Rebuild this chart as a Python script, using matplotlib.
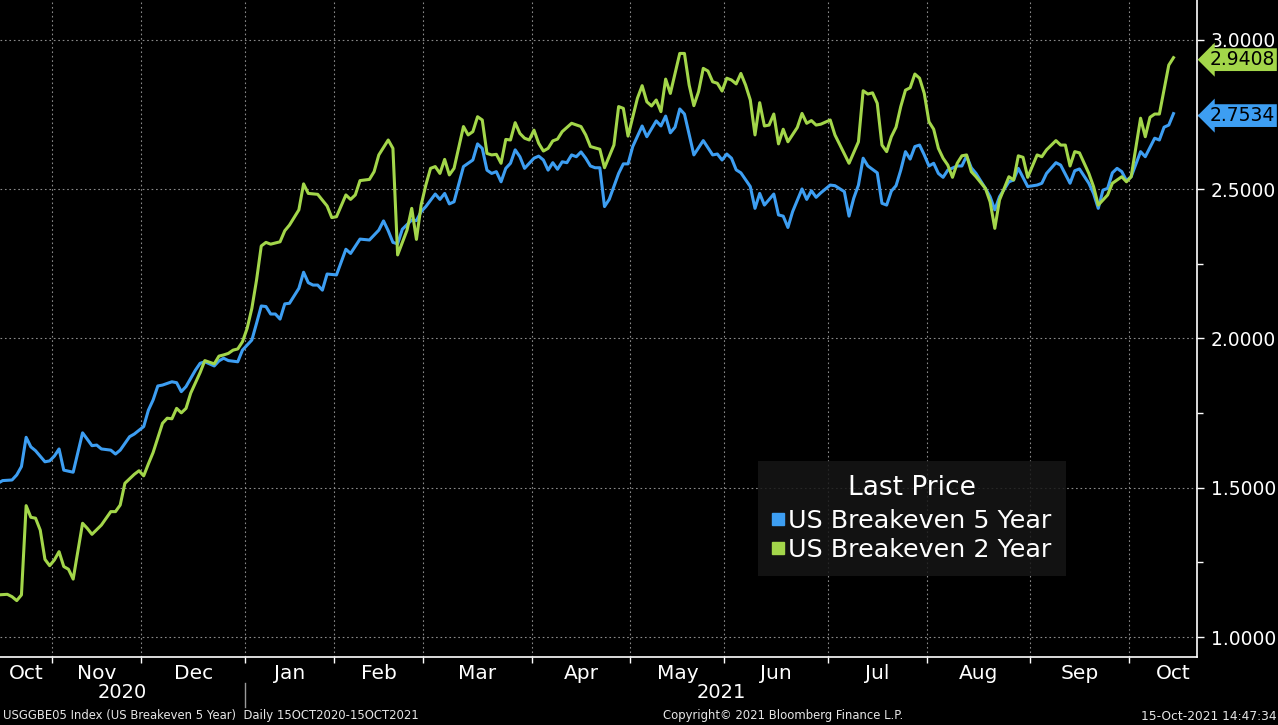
import numpy as np
import pandas as pd
import matplotlib
matplotlib.use('Agg')
from matplotlib import pyplot as plt
from matplotlib import transforms
from matplotlib.lines import Line2D
from matplotlib.ticker import FixedLocator, FixedFormatter, MultipleLocator, FormatStrFormatter, NullFormatter

# US bond market sessions, 15 Oct 2020 - 15 Oct 2021
holidays = ['2020-11-11', '2020-11-26', '2020-12-25', '2021-01-01', '2021-01-18',
            '2021-02-15', '2021-04-02', '2021-05-31', '2021-07-05', '2021-09-06',
            '2021-10-11']
sessions = pd.bdate_range('2020-10-15', '2021-10-15', freq='C', holidays=holidays)

# session number -> breakeven (%)
day_5y = [0, 1, 3, 4, 5, 6, 7, 8, 10, 11, 12, 13, 14, 16, 18, 20, 21, 22, 24, 25,
          26, 28, 29, 31, 32, 33, 34, 35, 37, 38, 39, 40, 42, 43, 44, 46, 47,
          48, 49, 51, 52, 54, 55, 56, 57, 58, 59, 60, 61, 62, 64, 65, 66, 67, 68,
          69, 70, 72, 74, 75, 77, 79, 81, 82, 83, 84, 85, 86, 88, 89, 90,
          91, 93, 94, 95, 96, 97, 99, 101, 102, 103, 104, 105, 106, 107, 108, 109,
          110, 111, 112, 114, 115, 116, 117, 118, 119, 120, 121, 122, 123, 124, 125,
          126, 127, 128, 129, 130, 132, 133, 134, 135,
          137, 138, 140, 141, 142, 143, 144, 145, 146, 148, 150, 152, 153, 154, 155,
          156, 157, 158, 160, 161, 162, 163, 165, 166, 167, 168, 169, 171, 172, 173,
          174, 175, 177, 178, 180, 181, 182, 183, 184, 185, 187, 188, 189, 190, 191,
          192, 193, 194, 195, 196, 197, 198,
          199, 200, 201, 202, 204, 205, 206, 207, 208, 210, 211, 212, 213, 215, 216,
          217, 219, 221, 222, 223, 225, 226, 228, 229, 230, 232, 233, 234, 235, 236,
          237, 238, 239, 240, 241, 243, 244, 246, 247, 248, 249, 250]
be_5y = [1.515, 1.524, 1.526, 1.543, 1.571, 1.669, 1.637, 1.624, 1.587, 1.590, 1.606, 1.630, 1.559, 1.552, 1.684, 1.641, 1.643, 1.630, 1.626, 1.613,
         1.626, 1.671, 1.680, 1.705, 1.760, 1.794, 1.841, 1.844, 1.855, 1.852, 1.822, 1.839, 1.894, 1.917, 1.922, 1.908, 1.925,
         1.934, 1.926, 1.922, 1.961, 1.995, 2.051, 2.109, 2.107, 2.082, 2.082, 2.065, 2.116, 2.118, 2.168, 2.222, 2.187, 2.179, 2.179,
         2.162, 2.216, 2.213, 2.299, 2.285, 2.333, 2.330, 2.363, 2.394, 2.361, 2.322, 2.317, 2.366, 2.397, 2.395, 2.425,
         2.442, 2.484, 2.466, 2.486, 2.451, 2.458, 2.576, 2.598, 2.652, 2.637, 2.564, 2.553, 2.559, 2.525, 2.570, 2.587,
         2.632, 2.609, 2.570, 2.604, 2.611, 2.598, 2.564, 2.589, 2.567, 2.592, 2.589, 2.615, 2.609, 2.625, 2.604,
         2.578, 2.572, 2.572, 2.442, 2.466, 2.553, 2.585, 2.585, 2.643,
         2.712, 2.676, 2.729, 2.712, 2.745, 2.689, 2.708, 2.769, 2.752, 2.615, 2.663, 2.615, 2.618, 2.598, 2.618,
         2.604, 2.565, 2.555, 2.509, 2.436, 2.486, 2.447, 2.484, 2.414, 2.410, 2.372, 2.425, 2.501, 2.466, 2.495,
         2.473, 2.488, 2.514, 2.512, 2.492, 2.410, 2.470, 2.514, 2.604, 2.578, 2.555, 2.453, 2.447, 2.494, 2.512,
         2.564, 2.626, 2.601, 2.643, 2.648, 2.615, 2.578,
         2.587, 2.553, 2.540, 2.564, 2.578, 2.578, 2.611, 2.572, 2.553, 2.503, 2.475, 2.431, 2.475, 2.525, 2.531,
         2.570, 2.509, 2.514, 2.520, 2.553, 2.589, 2.581, 2.520, 2.562, 2.568, 2.520, 2.486, 2.436, 2.497, 2.503,
         2.555, 2.570, 2.559, 2.529, 2.542, 2.626, 2.609, 2.671, 2.665, 2.708, 2.715, 2.7534]

day_2y = [0, 2, 3, 4, 5, 6, 7, 8, 9, 10, 11, 12, 13, 14, 15, 16, 18, 19, 20, 22,
          24, 25, 26, 27, 29, 30, 31, 32, 33, 35, 36, 37, 38, 39, 40, 41, 43, 44, 46, 47,
          48, 49, 50, 51, 52, 53, 54, 55, 56, 57, 58, 60, 61, 62, 64, 65, 66, 68, 70,
          71, 72, 74, 75, 76, 77, 79, 80, 81, 83, 84, 85, 87, 88, 89, 90,
          91, 92, 93, 94, 95, 96, 97, 99, 100, 101, 102, 103, 104, 105, 106, 107, 108,
          109, 110, 111, 112, 113, 114, 115, 116, 117, 118, 119, 120, 122, 124, 125,
          126, 128, 129, 131, 132, 133, 134, 136,
          137, 138, 139, 140, 141, 142, 143, 145, 146, 147, 148, 149, 150, 151, 152,
          153, 154, 155, 156, 157, 158, 159, 160, 161, 162, 163, 164, 165, 166, 167,
          168, 170, 171, 172, 173, 174, 175, 177, 178, 181, 183, 184, 185, 186, 187,
          188, 189, 190, 191, 192, 193, 194, 195, 196, 197,
          198, 199, 200, 201, 202, 203, 204, 205, 206, 207, 208, 210, 211, 212, 213,
          215, 216, 217, 218, 219, 221, 222, 223, 225, 226, 227, 228, 229, 230, 232,
          233, 234, 235, 236, 237, 239, 240, 241, 243, 244, 245, 246, 247, 249, 250]
be_2y = [1.141, 1.143, 1.135, 1.122, 1.141, 1.440, 1.401, 1.398, 1.358, 1.260, 1.239, 1.258, 1.286, 1.236, 1.227, 1.194, 1.381, 1.364, 1.344, 1.375,
         1.420, 1.420, 1.442, 1.515, 1.545, 1.557, 1.540, 1.580, 1.618, 1.716, 1.733, 1.731, 1.766, 1.751, 1.766, 1.817, 1.886, 1.926, 1.915, 1.941,
         1.945, 1.950, 1.961, 1.965, 1.989, 2.034, 2.101, 2.196, 2.310, 2.322, 2.316, 2.324, 2.361, 2.380, 2.431, 2.518, 2.486, 2.483, 2.444,
         2.405, 2.408, 2.481, 2.466, 2.481, 2.529, 2.533, 2.559, 2.615, 2.665, 2.637, 2.280, 2.363, 2.436, 2.332, 2.447,
         2.514, 2.570, 2.576, 2.553, 2.600, 2.548, 2.570, 2.710, 2.682, 2.693, 2.743, 2.732, 2.620, 2.615, 2.617, 2.587, 2.667,
         2.665, 2.723, 2.687, 2.671, 2.665, 2.698, 2.654, 2.628, 2.637, 2.662, 2.668, 2.693, 2.721, 2.710, 2.682,
         2.643, 2.634, 2.572, 2.648, 2.777, 2.771, 2.678, 2.805,
         2.847, 2.793, 2.779, 2.799, 2.760, 2.869, 2.821, 2.955, 2.955, 2.849, 2.780, 2.827, 2.905, 2.896, 2.860,
         2.855, 2.829, 2.872, 2.866, 2.853, 2.888, 2.849, 2.799, 2.682, 2.790, 2.712, 2.715, 2.752, 2.652, 2.701,
         2.659, 2.707, 2.754, 2.721, 2.730, 2.715, 2.718, 2.732, 2.682, 2.587, 2.659, 2.830, 2.819, 2.823, 2.788,
         2.648, 2.626, 2.676, 2.708, 2.777, 2.832, 2.840, 2.886, 2.872, 2.821,
         2.726, 2.701, 2.637, 2.604, 2.581, 2.540, 2.587, 2.612, 2.615, 2.559, 2.542, 2.503, 2.458, 2.369, 2.464,
         2.542, 2.531, 2.612, 2.607, 2.540, 2.615, 2.609, 2.632, 2.663, 2.648, 2.648, 2.578, 2.626, 2.622, 2.553,
         2.509, 2.447, 2.464, 2.481, 2.520, 2.542, 2.525, 2.542, 2.738, 2.676, 2.741, 2.752, 2.752, 2.916, 2.9408]

names = ['US Breakeven 5 Year', 'US Breakeven 2 Year']
BLUE = '#3d9ef2'
GREEN = '#a3d64a'
GRID = '#8a8a8a'

fig = plt.figure(figsize=(12.78, 7.25), dpi=100, facecolor='black')
ax = fig.add_axes([0, 68 / 725, 1197 / 1278, 657 / 725], facecolor='black')

ax.plot(day_5y, be_5y, color=BLUE, lw=2.2, solid_joinstyle='round')
ax.plot(day_2y, be_2y, color=GREEN, lw=2.2, solid_joinstyle='round')

x0, x1 = 0.44, 255.0
ax.set_xlim(x0, x1)
ax.set_ylim(0.933, 3.134)

# month boundaries / month label positions
months = sessions.to_period('M')
firsts = [0] + [i for i in range(1, len(sessions)) if months[i] != months[i - 1]]
lasts = [f - 1 for f in firsts[1:]] + [len(sessions) - 1]
bounds = [f - 0.5 for f in firsts[1:]]
centers = []
for f, l in zip(firsts, lasts):
    centers.append((max(f - 0.5, x0) + l + 0.5) / 2)
centers[-1] = lasts[-1]
mlabels = [sessions[f].strftime('%b') for f in firsts]

ax.xaxis.set_major_locator(FixedLocator(bounds))
ax.xaxis.set_major_formatter(NullFormatter())
ax.xaxis.set_minor_locator(FixedLocator(centers))
ax.xaxis.set_minor_formatter(FixedFormatter(mlabels))
ax.tick_params(axis='x', which='major', length=4, width=1, color='white', direction='out')
ax.tick_params(axis='x', which='minor', length=0, labelsize=14.5, labelcolor='white', pad=5)

ax.yaxis.tick_right()
ax.yaxis.set_major_locator(MultipleLocator(0.5))
ax.yaxis.set_minor_locator(MultipleLocator(0.25))
ax.yaxis.set_major_formatter(FormatStrFormatter('%.4f'))
ax.tick_params(axis='y', which='major', length=5, width=1, color='white', labelsize=13.5,
               labelcolor='white', pad=5)
ax.tick_params(axis='y', which='minor', length=4, width=1, color='white')

ax.grid(axis='x', which='major', color=GRID, linestyle=(0, (1.5, 2.5)), lw=0.8)
ax.grid(axis='y', which='major', color=GRID, linestyle=(0, (1.5, 2.5)), lw=0.8)

for s in ['top', 'left']:
    ax.spines[s].set_visible(False)
for s in ['right', 'bottom']:
    ax.spines[s].set_color('white')
    ax.spines[s].set_linewidth(1.2)

# years under the months
jan = bounds[2]
tr = transforms.blended_transform_factory(ax.transData, fig.transFigure)
ax.text((x0 + jan) / 2, 1 - 693 / 725, '2020', transform=tr, ha='center', va='center',
        color='white', fontsize=14)
ax.text((jan + x1) / 2, 1 - 693 / 725, '2021', transform=tr, ha='center', va='center',
        color='white', fontsize=14)
ax.plot([jan, jan], [1 - 683 / 725, 1 - 707 / 725], transform=tr, color='#9a9a9a',
        lw=1, clip_on=False)

# last price tags
tr2 = transforms.blended_transform_factory(ax.transAxes, ax.transData)
for val, col in [(be_2y[-1], GREEN), (be_5y[-1], BLUE)]:
    ax.text(1.0105, val, '%.4f' % val, transform=tr2, ha='left', va='center_baseline',
            fontsize=13.5, color='black', clip_on=False,
            bbox=dict(boxstyle='larrow,pad=0.1', fc=col, ec='none'))

handles = [Line2D([], [], ls='none', marker='s', ms=8, color=BLUE, mec=BLUE),
           Line2D([], [], ls='none', marker='s', ms=8, color=GREEN, mec=GREEN)]
leg = ax.legend(handles, names, title='Last Price', loc='upper left',
                bbox_to_anchor=(758 / 1197, 1 - 461 / 657), fontsize=18.3, title_fontsize=19,
                frameon=True, facecolor='#161616', edgecolor='none', framealpha=0.85,
                fancybox=False, handlelength=0.5, handletextpad=0.15, borderpad=0.55,
                labelspacing=0.2, borderaxespad=0)
leg._legend_box.sep = 6
for t in leg.get_texts():
    t.set_color('white')
leg.get_title().set_color('white')

fy = 1 - 716 / 725
fig.text(0.002, fy, 'USGGBE05 Index (US Breakeven 5 Year)  Daily 15OCT2020-15OCT2021',
         fontsize=8.4, color='#e6e6e6', va='center', ha='left')
fig.text(783 / 1278, fy, 'Copyright\u00a9 2021 Bloomberg Finance L.P.', fontsize=8.4,
         color='#e6e6e6', va='center', ha='center')
fig.text(0.999, fy, '15-Oct-2021 14:47:34', fontsize=8.8, color='#e6e6e6', va='center', ha='right')

fig.savefig('out.png', dpi=100, facecolor='black')
